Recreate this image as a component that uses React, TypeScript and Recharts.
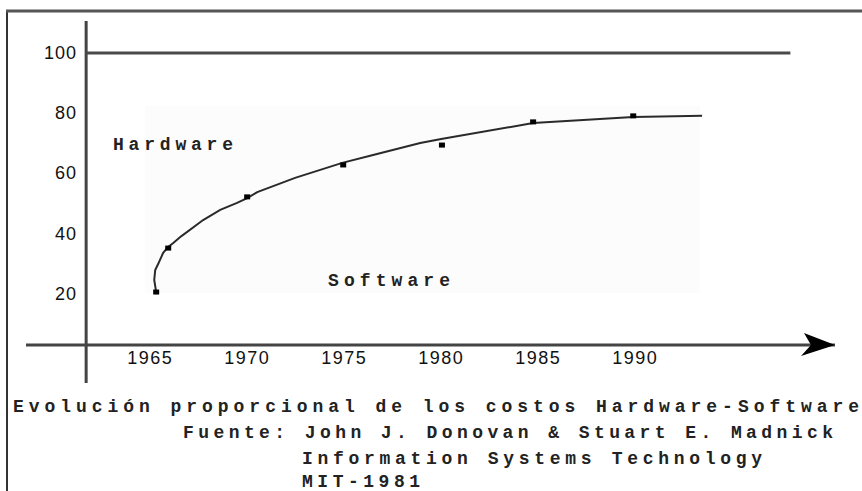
import React from 'react';
import {
  ComposedChart,
  Line,
  Scatter,
  XAxis,
  YAxis,
  ReferenceLine,
  ReferenceArea,
  ReferenceDot,
} from 'recharts';

// Curve of the software share of total cost
const curveYears = [1965.31, 1965.21, 1965.26, 1965.41, 1965.67, 1965.93, 1966.19, 1966.55, 1966.7, 1967.73, 1968.61, 1969.48, 1970.0, 1970.52, 1972.47, 1974.9, 1976.49, 1978.92, 1980.0, 1984.74, 1989.9, 1993.45];
const curveValues = [20.6, 24.6, 27.9, 29.9, 33.6, 35.6, 36.9, 38.9, 39.6, 44.5, 47.9, 50.2, 51.8, 53.8, 58.5, 63.5, 66.1, 70.1, 71.4, 76.7, 78.7, 79.1];

// Plotted observations (small squares)
const markerYears = [1965.31, 1965.93, 1970.0, 1974.95, 1980.04, 1984.74, 1989.9];
const markerValues = [20.6, 35.2, 52.2, 62.8, 69.4, 77.1, 79.1];

const yearTicks = [1965, 1970, 1975, 1980, 1985, 1990];
const shareTicks = [20, 40, 60, 80, 100];

const xDomain: [number, number] = [1958.6, 2000.3];
const yDomain: [number, number] = [-9.6, 110.6];
const yAxisYear = 1961.7;
const xAxisValue = 3;
const topLineEnd = 1998;
const regionX: [number, number] = [1964.74, 1993.35];
const regionY: [number, number] = [20.3, 82.4];

const curveData = curveYears.map((year, i) => ({ year, share: curveValues[i] }));
const markerData = markerYears.map((year, i) => ({ year, share: markerValues[i] }));

const title = 'Evolución proporcional de los costos Hardware-Software';
const source1 = 'Fuente: John J. Donovan & Stuart E. Madnick';
const source2 = 'Information Systems Technology';
const source3 = 'MIT-1981';

const mono = '"Liberation Mono", "DejaVu Sans Mono", monospace';
const sans = '"Liberation Sans", Arial, sans-serif';

const YearTick = (props: any) => {
  const { x, y, payload } = props;
  return (
    <text
      x={x}
      y={y - 25}
      textAnchor="middle"
      dominantBaseline="central"
      fontFamily={sans}
      fontSize={18}
      letterSpacing={1.5}
      fill="#111"
    >
      {payload.value}
    </text>
  );
};

const ShareTick = (props: any) => {
  const { x, y, payload } = props;
  return (
    <text
      x={x + 51}
      y={y}
      textAnchor="end"
      dominantBaseline="central"
      fontFamily={sans}
      fontSize={18}
      letterSpacing={1}
      fill="#111"
    >
      {payload.value}
    </text>
  );
};

const MarkerShape = (props: any) => {
  const { cx, cy } = props;
  return <rect x={cx - 3} y={cy - 2.5} width={6} height={5} fill="#000" />;
};

const ArrowShape = (props: any) => {
  const { cx, cy } = props;
  return (
    <polygon
      points={`${cx},${cy} ${cx - 31},${cy - 12} ${cx - 24},${cy} ${cx - 34},${cy + 11}`}
      fill="#000"
    />
  );
};

export default function App() {
  return (
    <div style={{ position: 'absolute', left: 0, top: 0, width: 862, height: 491, background: '#fff' }}>
      <div style={{ position: 'absolute', left: 0, top: 0 }}>
        <ComposedChart
          width={862}
          height={491}
          margin={{ top: 21, right: 27, bottom: 78, left: 0 }}
        >
          <XAxis
            type="number"
            dataKey="year"
            domain={xDomain}
            ticks={yearTicks}
            interval={0}
            axisLine={false}
            tickLine={false}
            tickSize={0}
            tickMargin={0}
            height={30}
            allowDataOverflow
            tick={<YearTick />}
          />
          <YAxis
            type="number"
            dataKey="share"
            domain={yDomain}
            ticks={shareTicks}
            interval={0}
            axisLine={false}
            tickLine={false}
            tickSize={0}
            tickMargin={0}
            width={26}
            allowDataOverflow
            tick={<ShareTick />}
          />
          <ReferenceArea
            x1={regionX[0]}
            x2={regionX[1]}
            y1={regionY[0]}
            y2={regionY[1]}
            fill="#fcfcfc"
            fillOpacity={1}
            stroke="none"
            ifOverflow="visible"
          />
          <ReferenceLine x={yAxisYear} stroke="#444" strokeWidth={3} ifOverflow="visible" />
          <ReferenceLine y={xAxisValue} stroke="#444" strokeWidth={3} ifOverflow="visible" />
          <ReferenceLine
            segment={[
              { x: yAxisYear, y: 100 },
              { x: topLineEnd, y: 100 },
            ]}
            stroke="#4a4a4a"
            strokeWidth={3}
            ifOverflow="visible"
          />
          <ReferenceDot
            x={xDomain[1]}
            y={xAxisValue}
            r={1}
            ifOverflow="visible"
            shape={ArrowShape}
          />
          <Line
            data={curveData}
            dataKey="share"
            type="linear"
            stroke="#2a2a2a"
            strokeWidth={2}
            dot={false}
            activeDot={false}
            isAnimationActive={false}
          />
          <Scatter
            data={markerData}
            dataKey="share"
            shape={MarkerShape}
            isAnimationActive={false}
          />
        </ComposedChart>
      </div>
      <svg
        width={862}
        height={491}
        style={{ position: 'absolute', left: 0, top: 0, pointerEvents: 'none' }}
      >
        <line x1={7} y1={10} x2={7} y2={491} stroke="#333" strokeWidth={2} />
        <line x1={6} y1={11} x2={862} y2={11} stroke="#555" strokeWidth={3} />
        <g fontFamily={mono} fontSize={18} fontWeight="bold" fill="#222">
          <text x={113} y={150} textLength={120}>Hardware</text>
          <text x={328} y={286} textLength={122}>Software</text>
          <text x={13} y={412} textLength={846}>{title}</text>
          <text x={183} y={438} textLength={650}>{source1}</text>
          <text x={302} y={464} textLength={460}>{source2}</text>
          <text x={302} y={487} textLength={118}>{source3}</text>
        </g>
      </svg>
    </div>
  );
}
